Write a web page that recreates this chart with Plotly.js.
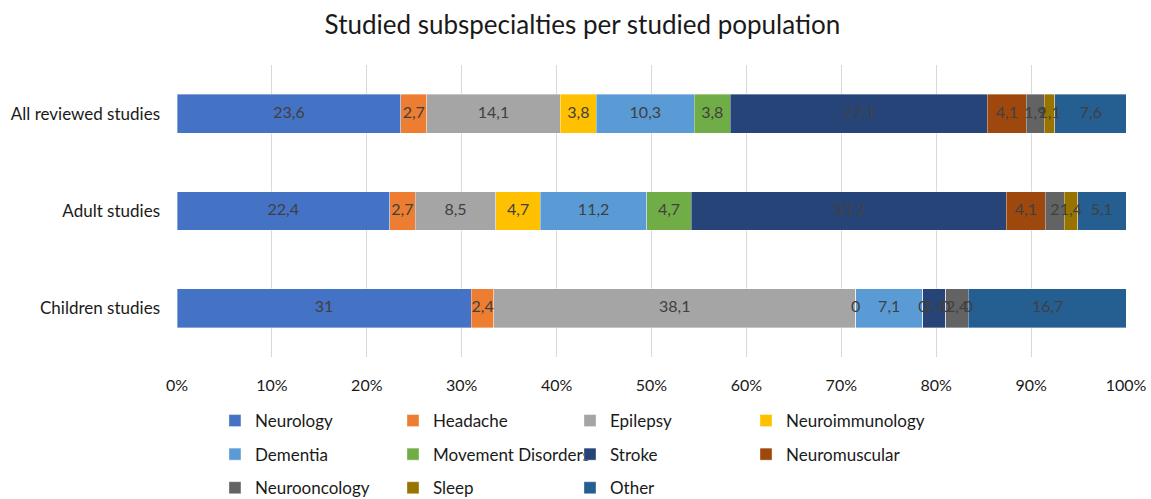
<!DOCTYPE html>
<html>
<head>
<meta charset="utf-8">
<script src="https://cdn.plot.ly/plotly-3.0.1.min.js"></script>
<style>html,body{margin:0;padding:0;background:#fff;overflow:hidden;}#wrap{width:1151px;height:499px;overflow:hidden;}#chart{width:1151px;height:540px;}</style>
</head>
<body>
<div id="wrap"><div id="chart"></div></div>
<script>
var populations = ["All reviewed studies", "Adult studies", "Children studies"];
var subspecialties = ["Neurology", "Headache", "Epilepsy", "Neuroimmunology", "Dementia", "Movement Disorders", "Stroke", "Neuromuscular", "Neurooncology", "Sleep", "Other"];
// values per subspecialty: [All reviewed, Adult, Children] (%)
var neurology = [23.6, 22.4, 31];
var headache = [2.7, 2.7, 2.4];
var epilepsy = [14.1, 8.5, 38.1];
var neuroimmunology = [3.8, 4.7, 0];
var dementia = [10.3, 11.2, 7.1];
var movementDisorders = [3.8, 4.7, 0];
var stroke = [27.1, 33.2, 2.4];
var neuromuscular = [4.1, 4.1, 0];
var neurooncology = [1.9, 2, 2.4];
var sleep = [1.1, 1.4, 0];
var other = [7.6, 5.1, 16.7];
var xTickLabels = ["0%", "10%", "20%", "30%", "40%", "50%", "60%", "70%", "80%", "90%", "100%"];

var series = [neurology, headache, epilepsy, neuroimmunology, dementia, movementDisorders, stroke, neuromuscular, neurooncology, sleep, other];
var colors = ["#4472C4", "#ED7D31", "#A5A5A5", "#FFC000", "#5B9BD5", "#70AD47", "#264478", "#9E480E", "#636363", "#997300", "#255E91"];
// legend column for each subspecialty (Excel layout: 4 columns, row-major)
var legendIds = ["legend", "legend2", "legend3", "legend4", "legend", "legend2", "legend3", "legend4", "legend", "legend2", "legend3"];

var FONT = "Lato, 'Open Sans', sans-serif";
var traces = [];
series.forEach(function (vals, i) {
  traces.push({
    type: "bar",
    orientation: "h",
    name: subspecialties[i],
    y: populations,
    x: vals,
    marker: { color: colors[i], line: { color: "rgba(255,255,255,0.6)", width: 0.6 } },
    legend: legendIds[i],
    legendgroup: "g" + i,
    hoverinfo: "x+name"
  });
});

// data labels at segment midpoints, computed from the series
var lx = [], ly = [], lt = [];
populations.forEach(function (p, j) {
  var cum = 0;
  series.forEach(function (vals) {
    var v = vals[j];
    lx.push(cum + v / 2);
    ly.push(p);
    lt.push(String(v).replace(".", ","));
    cum += v;
  });
});
traces.push({
  type: "scatter",
  mode: "text",
  x: lx,
  y: ly,
  text: lt,
  textposition: "middle center",
  textfont: { family: FONT, size: 16, color: "#404040" },
  showlegend: false,
  hoverinfo: "skip"
});

var legendBase = {
  orientation: "v",
  y: -0.1575,
  yanchor: "top",
  xanchor: "left",
  font: { family: FONT, size: 17, color: "#1a1a1a" },
  tracegroupgap: 8.5,
  bgcolor: "rgba(0,0,0,0)",
  itemclick: false
};
function leg(x) { return Object.assign({}, legendBase, { x: x }); }

var H = 540; // figure drawn taller than the 499px view so the legend needs no margin push
var layout = {
  width: 1151,
  height: H,
  margin: { l: 177, r: 25, t: 65, b: H - 357 },
  paper_bgcolor: "#ffffff",
  plot_bgcolor: "#ffffff",
  barmode: "stack",
  bargap: 0.6,
  title: {
    text: "Studied subspecialties per studied population",
    font: { family: FONT, size: 26, color: "#1a1a1a" },
    x: 0.506,
    xref: "container",
    xanchor: "center",
    y: 1 - 25 / H,
    yref: "container",
    yanchor: "middle"
  },
  xaxis: {
    range: [0, 100],
    tickvals: [0, 10, 20, 30, 40, 50, 60, 70, 80, 90, 100],
    ticktext: xTickLabels,
    showgrid: true,
    gridcolor: "#D9D9D9",
    gridwidth: 1,
    zeroline: false,
    showline: false,
    ticks: "",
    ticklabelstandoff: 17,
    tickfont: { family: FONT, size: 16, color: "#1a1a1a" },
    fixedrange: true
  },
  yaxis: {
    type: "category",
    categoryorder: "array",
    categoryarray: populations,
    autorange: "reversed",
    showgrid: false,
    zeroline: false,
    showline: false,
    ticks: "",
    ticklabelstandoff: 16,
    tickfont: { family: FONT, size: 17, color: "#1a1a1a" },
    fixedrange: true
  },
  legend: leg(0.0400),
  legend2: leg(0.2276),
  legend3: leg(0.4141),
  legend4: leg(0.5996),
  showlegend: true
};

Plotly.newPlot("chart", traces, layout, { displayModeBar: false });
</script>
</body>
</html>
